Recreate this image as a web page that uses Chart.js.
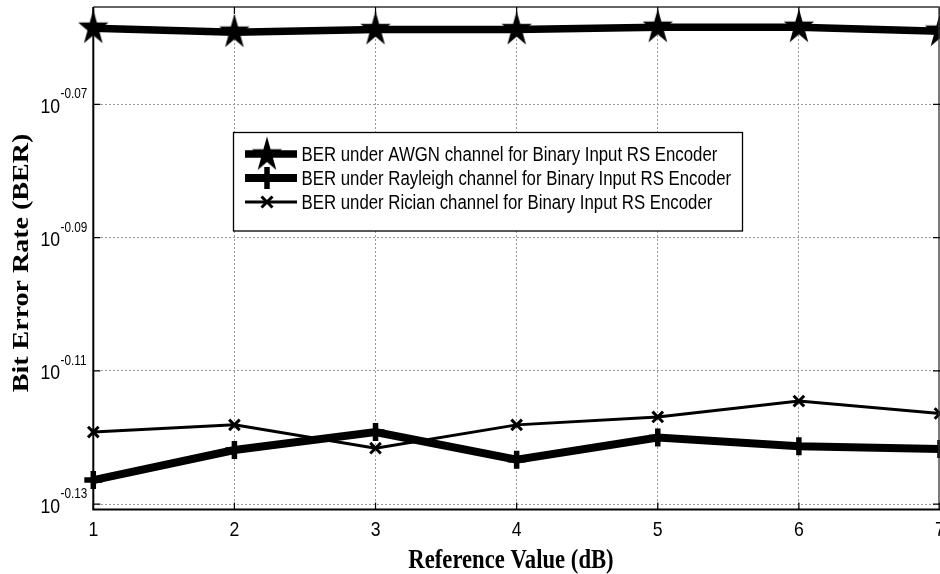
<!DOCTYPE html>
<html><head><meta charset="utf-8">
<script src="https://cdn.jsdelivr.net/npm/chart.js@4/dist/chart.umd.min.js"></script>
<style>html,body{margin:0;padding:0;background:#fff;}canvas{display:block;}</style>
</head><body>
<canvas id="c" width="940" height="574"></canvas>
<script>
// ---- data ----
const categories = ['1', '2', '3', '4', '5', '6', '7'];
const awgnBER     = [0.8738, 0.8726, 0.8734, 0.8734, 0.8741, 0.8741, 0.8729];
const rayleighBER = [0.7475, 0.7553, 0.7600, 0.7528, 0.7586, 0.7563, 0.7556];
const ricianBER   = [0.7600, 0.7619, 0.7558, 0.7619, 0.7640, 0.7682, 0.7649];
const yTickExponents = ['-0.13', '-0.11', '-0.09', '-0.07'];
const seriesLabels = [
  'BER under AWGN channel for Binary Input RS Encoder',
  'BER under Rayleigh channel for Binary Input RS Encoder',
  'BER under Rician channel for Binary Input RS Encoder'
];
const xTitle = 'Reference Value (dB)';
const yTitle = 'Bit Error Rate (BER)';
const yMin = Math.pow(10, -0.1308);
const yMax = Math.pow(10, -0.0554);

// ---- styling ----
const SX = 0.84; // horizontal text squeeze of the reference
const SANS = '"Liberation Sans", Arial, sans-serif';
const SERIF = '"Liberation Serif", "Times New Roman", serif';

function makeStar() {
  const R = 18.5, r = R * 0.382;
  const w = Math.ceil(2 * R * 0.86) + 2, h = Math.ceil(2 * R) + 2;
  const c = document.createElement('canvas'); c.width = w; c.height = h;
  const g = c.getContext('2d');
  g.translate(w / 2, h / 2); g.scale(0.86, 1);
  g.beginPath();
  for (let i = 0; i < 10; i++) {
    const a = -Math.PI / 2 + i * Math.PI / 5, rad = i % 2 ? r : R;
    g.lineTo(rad * Math.cos(a), rad * Math.sin(a));
  }
  g.closePath(); g.fillStyle = '#000'; g.fill();
  return c;
}
const starImg = makeStar();

function txt(ctx, s, x, y, font, align, base) {
  ctx.save(); ctx.translate(x, y); ctx.scale(SX, 1);
  ctx.font = font; ctx.textAlign = align; ctx.textBaseline = base || 'alphabetic';
  ctx.fillStyle = '#000'; ctx.fillText(s, 0, 0); ctx.restore();
}

const decor = {
  id: 'decor',
  afterDraw(chart) {
    const ctx = chart.ctx, a = chart.chartArea;
    const xs = chart.scales.x, ys = chart.scales.y;
    ctx.save();
    // frame
    ctx.strokeStyle = '#333'; ctx.lineWidth = 1.3;
    ctx.beginPath(); ctx.moveTo(a.left, a.top); ctx.lineTo(a.right - 1, a.top); ctx.lineTo(a.right - 1, a.bottom); ctx.stroke();
    ctx.strokeStyle = '#000'; ctx.lineWidth = 2;
    ctx.beginPath(); ctx.moveTo(a.left, a.top); ctx.lineTo(a.left, a.bottom); ctx.lineTo(a.right, a.bottom); ctx.stroke();
    // inward ticks
    ctx.lineWidth = 1.2; ctx.strokeStyle = '#000';
    const TL = 7;
    categories.forEach((c, i) => {
      const px = xs.getPixelForValue(i);
      ctx.beginPath(); ctx.moveTo(px, a.bottom); ctx.lineTo(px, a.bottom - TL);
      ctx.moveTo(px, a.top); ctx.lineTo(px, a.top + TL); ctx.stroke();
      txt(ctx, c, px, 535.5, '21px ' + SANS, 'center');
    });
    yTickExponents.forEach(e => {
      const py = ys.getPixelForValue(Math.pow(10, parseFloat(e)));
      ctx.beginPath(); ctx.moveTo(a.left, py); ctx.lineTo(a.left + TL, py);
      ctx.moveTo(a.right, py); ctx.lineTo(a.right - TL, py); ctx.stroke();
      txt(ctx, '10', 60, py + 8.5, '21px ' + SANS, 'right');
      txt(ctx, e, 60.5, py - 6, '14px ' + SANS, 'left');
    });
    // axis titles
    txt(ctx, xTitle, 511, 568, 'bold 27px ' + SERIF, 'center');
    ctx.save();
    ctx.translate(22, 263); ctx.scale(SX, 1); ctx.rotate(-Math.PI / 2);
    ctx.font = 'bold 28px ' + SERIF; ctx.textAlign = 'center'; ctx.textBaseline = 'middle';
    ctx.fillStyle = '#000'; ctx.fillText(yTitle, 0, 0);
    ctx.restore();
    // legend
    const L = 233.5, T = 132.5, W = 509, H = 98.5;
    ctx.fillStyle = '#fff'; ctx.fillRect(L, T, W, H);
    ctx.strokeStyle = '#000'; ctx.lineWidth = 1.3; ctx.strokeRect(L, T, W, H);
    const bases = [161, 185, 209];
    const ds = chart.data.datasets;
    bases.forEach((b, i) => {
      const cy = b - 7;
      ctx.strokeStyle = '#000'; ctx.lineWidth = ds[i].borderWidth;
      ctx.beginPath(); ctx.moveTo(245, cy); ctx.lineTo(297, cy); ctx.stroke();
      const mx = 267;
      if (i === 0) {
        ctx.drawImage(starImg, mx - starImg.width / 2, cy - starImg.height / 2 + 1);
      } else if (i === 1) {
        ctx.lineWidth = 5.5;
        ctx.beginPath(); ctx.moveTo(mx, cy - 11); ctx.lineTo(mx, cy + 11);
        ctx.moveTo(mx - 9, cy); ctx.lineTo(mx + 9, cy); ctx.stroke();
      } else {
        ctx.lineWidth = 3; const d = 5.5;
        ctx.beginPath(); ctx.moveTo(mx - d, cy - d); ctx.lineTo(mx + d, cy + d);
        ctx.moveTo(mx - d, cy + d); ctx.lineTo(mx + d, cy - d); ctx.stroke();
      }
      txt(ctx, seriesLabels[i], 301.5, b, '20px ' + SANS, 'left');
    });
    ctx.restore();
  }
};

new Chart(document.getElementById('c'), {
  type: 'line',
  data: {
    labels: categories,
    datasets: [
      { label: seriesLabels[0], data: awgnBER, borderColor: '#000', backgroundColor: '#000',
        borderWidth: 7.5, pointStyle: starImg, pointRadius: 12, clip: false, tension: 0 },
      { label: seriesLabels[1], data: rayleighBER, borderColor: '#000', backgroundColor: '#000',
        borderWidth: 8, pointStyle: 'cross', pointRadius: 9, pointBorderWidth: 5.5, clip: false, tension: 0 },
      { label: seriesLabels[2], data: ricianBER, borderColor: '#000', backgroundColor: '#000',
        borderWidth: 3, pointStyle: 'crossRot', pointRadius: 7.5, pointBorderWidth: 3, clip: false, tension: 0 }
    ]
  },
  options: {
    responsive: false, animation: false, devicePixelRatio: 1,
    layout: { autoPadding: false, padding: { top: 7, right: 0, left: 0, bottom: 0 } },
    plugins: { legend: { display: false }, tooltip: { enabled: false } },
    scales: {
      x: {
        type: 'category', offset: false,
        ticks: { display: false },
        grid: { color: '#9a9a9a', lineWidth: 1, drawTicks: false },
        border: { display: false, dash: [2, 2] },
        afterFit(s) { s.height = 64.5; }
      },
      y: {
        type: 'logarithmic', min: yMin, max: yMax,
        afterBuildTicks(s) { s.ticks = yTickExponents.map(e => ({ value: Math.pow(10, parseFloat(e)) })); },
        ticks: { display: false },
        grid: { color: '#9a9a9a', lineWidth: 1, drawTicks: false },
        border: { display: false, dash: [2, 2] },
        afterFit(s) { s.width = 93.3; }
      }
    }
  },
  plugins: [decor]
});
</script>
</body></html>
